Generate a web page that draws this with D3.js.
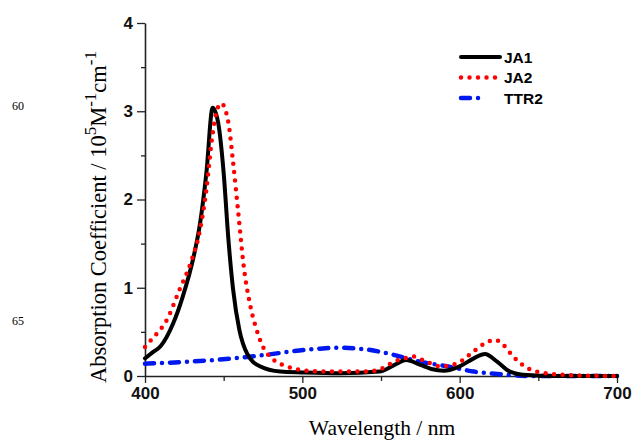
<!DOCTYPE html>
<html>
<head>
<meta charset="utf-8">
<script src="https://cdn.jsdelivr.net/npm/d3@7"></script>
<style>
  body { margin: 0; background: #fff; }
  svg { display: block; }
  .tick text { font-family: "Liberation Sans", Arial, sans-serif; font-weight: bold; font-size: 17px; fill: #111; }
</style>
</head>
<body>
<div class="container"></div>
<script>
// data (wavelength in nm, absorption in 10^5 M-1 cm-1)
var ja1Wl  = [400, 405, 410, 418, 424, 431, 435, 439, 443, 446.5, 450, 453, 456, 460, 465, 473, 486, 500, 524, 549, 558, 566, 575, 582, 590, 600, 609, 616, 624, 632, 643, 660, 700];
var ja1Abs = [0.2, 0.27, 0.34, 0.6, 0.9, 1.36, 1.73, 2.3, 3.04, 2.87, 2.3, 1.55, 0.98, 0.52, 0.25, 0.11, 0.05, 0.04, 0.03, 0.05, 0.12, 0.18, 0.125, 0.08, 0.06, 0.11, 0.2, 0.25, 0.16, 0.05, 0.01, 0, 0];

var ja2Wl  = [400, 405, 414, 422, 429, 435, 439, 442.5, 445.5, 448.5, 453, 456, 459.5, 462.5, 467, 471, 475, 482, 490, 503, 520, 540, 550, 558, 565, 570.5, 579, 588, 598, 609, 617, 622.5, 628, 634, 643, 655, 670, 700];
var ja2Abs = [0.33, 0.43, 0.64, 0.98, 1.28, 1.66, 2.11, 2.68, 3.0, 3.09, 2.87, 2.42, 1.81, 1.28, 0.79, 0.52, 0.33, 0.18, 0.11, 0.06, 0.05, 0.05, 0.08, 0.16, 0.2, 0.22, 0.16, 0.11, 0.14, 0.28, 0.38, 0.41, 0.35, 0.22, 0.09, 0.03, 0.01, 0];

var ttr2Wl  = [400, 426, 456, 477, 498, 511, 522, 541, 558, 575, 592, 609, 626, 645, 700];
var ttr2Abs = [0.14, 0.16, 0.2, 0.24, 0.29, 0.31, 0.32, 0.3, 0.24, 0.16, 0.11, 0.05, 0.02, 0, 0];

var seriesNames = ["JA1", "JA2", "TTR2"];
var xTicks = [400, 500, 600, 700];
var yTicks = [0, 1, 2, 3, 4];

var margin = {top: 23, right: 18, bottom: 64, left: 145},
    width = 635 - margin.left - margin.right,
    height = 440 - margin.top - margin.bottom;

var x_scale = d3.scaleLinear().domain([400, 700]).range([0, width]);
var y_scale = d3.scaleLinear().domain([0, 4]).range([height, 0]);

var svg = d3.select("div.container").append("svg")
    .attr("width", 635)
    .attr("height", 440);

// line numbers from the page margin
svg.append("text").attr("x", 12).attr("y", 110)
    .style("font-family", "Liberation Serif, serif").style("font-size", "12px").text("60");
svg.append("text").attr("x", 12).attr("y", 325)
    .style("font-family", "Liberation Serif, serif").style("font-size", "12px").text("65");

var g = svg.append("g")
    .attr("transform", "translate(" + margin.left + "," + margin.top + ")");

// minor ticks
g.append("g")
    .attr("transform", "translate(0," + height + ")")
    .call(d3.axisBottom(x_scale).tickValues([450, 550, 650]).tickSize(5).tickFormat(""))
    .call(function (a) { a.select(".domain").remove(); });
g.append("g")
    .call(d3.axisLeft(y_scale).tickValues([0.5, 1.5, 2.5, 3.5]).tickSize(4).tickFormat(""))
    .call(function (a) { a.select(".domain").remove(); });

// Add the X Axis
var xAxis = g.append("g")
    .attr("transform", "translate(0," + height + ")")
    .call(d3.axisBottom(x_scale).tickValues(xTicks).tickSize(7).tickPadding(4).tickSizeOuter(0));

// Add the Y Axis
var yAxis = g.append("g")
    .call(d3.axisLeft(y_scale).tickValues(yTicks).tickSize(8).tickPadding(4).tickSizeOuter(0).tickFormat(d3.format("d")));

g.selectAll(".domain").attr("stroke", "#222").attr("stroke-width", 1.6);
g.selectAll(".tick line").attr("stroke", "#222").attr("stroke-width", 1.3);

var line = d3.line()
    .curve(d3.curveMonotoneX)
    .x(function(d) { return x_scale(d[0]); })
    .y(function(d) { return y_scale(d[1]); });

function pairs(wl, ab) {
  return wl.map(function (w, i) { return [w, ab[i]]; });
}

var styles = [
  {stroke: "#000", width: 4, dash: null},
  {stroke: "#f00", width: 4.5, dash: "0,8.5"},
  {stroke: "#0018f0", width: 4.5, dash: "9,8,0,8"}
];

var seriesData = [pairs(ttr2Wl, ttr2Abs), pairs(ja1Wl, ja1Abs), pairs(ja2Wl, ja2Abs)];
var order = [2, 0, 1];

seriesData.forEach(function (dat, k) {
  var st = styles[order[k]];
  g.append("path")
      .datum(dat)
      .attr("fill", "none")
      .attr("stroke", st.stroke)
      .attr("stroke-width", st.width)
      .attr("stroke-linejoin", "round")
      .attr("stroke-linecap", "round")
      .attr("stroke-dasharray", st.dash)
      .attr("d", line);
});

// legend
var legend = svg.append("g").attr("transform", "translate(461,57)");
seriesNames.forEach(function (name, i) {
  var st = styles[i];
  var row = legend.append("g").attr("transform", "translate(0," + (i * 20.5) + ")");
  row.append("line")
      .attr("x1", 0).attr("x2", i == 2 ? 22 : 39)
      .attr("stroke", st.stroke)
      .attr("stroke-width", st.width)
      .attr("stroke-linecap", "round")
      .attr("stroke-dasharray", st.dash);
  row.append("text")
      .attr("x", 43).attr("y", 5.5)
      .style("font-family", "Liberation Sans, Arial, sans-serif")
      .style("font-weight", "bold")
      .style("font-size", "15.5px")
      .text(name);
});

// axis titles
svg.append("text")
    .attr("x", margin.left + width / 2 + 1).attr("y", 435)
    .attr("text-anchor", "middle")
    .style("font-family", "Liberation Serif, serif")
    .style("font-size", "21.5px")
    .text("Wavelength / nm");

var yl = svg.append("text")
    .attr("transform", "translate(106,217) rotate(-90)")
    .attr("text-anchor", "middle")
    .style("font-family", "Liberation Serif, serif")
    .style("font-size", "22.5px");
yl.append("tspan").text("Absorption Coefficient / 10");
yl.append("tspan").attr("dy", -10).style("font-size", "17px").text("5");
yl.append("tspan").attr("dy", 10).text("M");
yl.append("tspan").attr("dy", -10).style("font-size", "17px").text("-1");
yl.append("tspan").attr("dy", 10).text("cm");
yl.append("tspan").attr("dy", -10).style("font-size", "17px").text("-1");
</script>
</body>
</html>
